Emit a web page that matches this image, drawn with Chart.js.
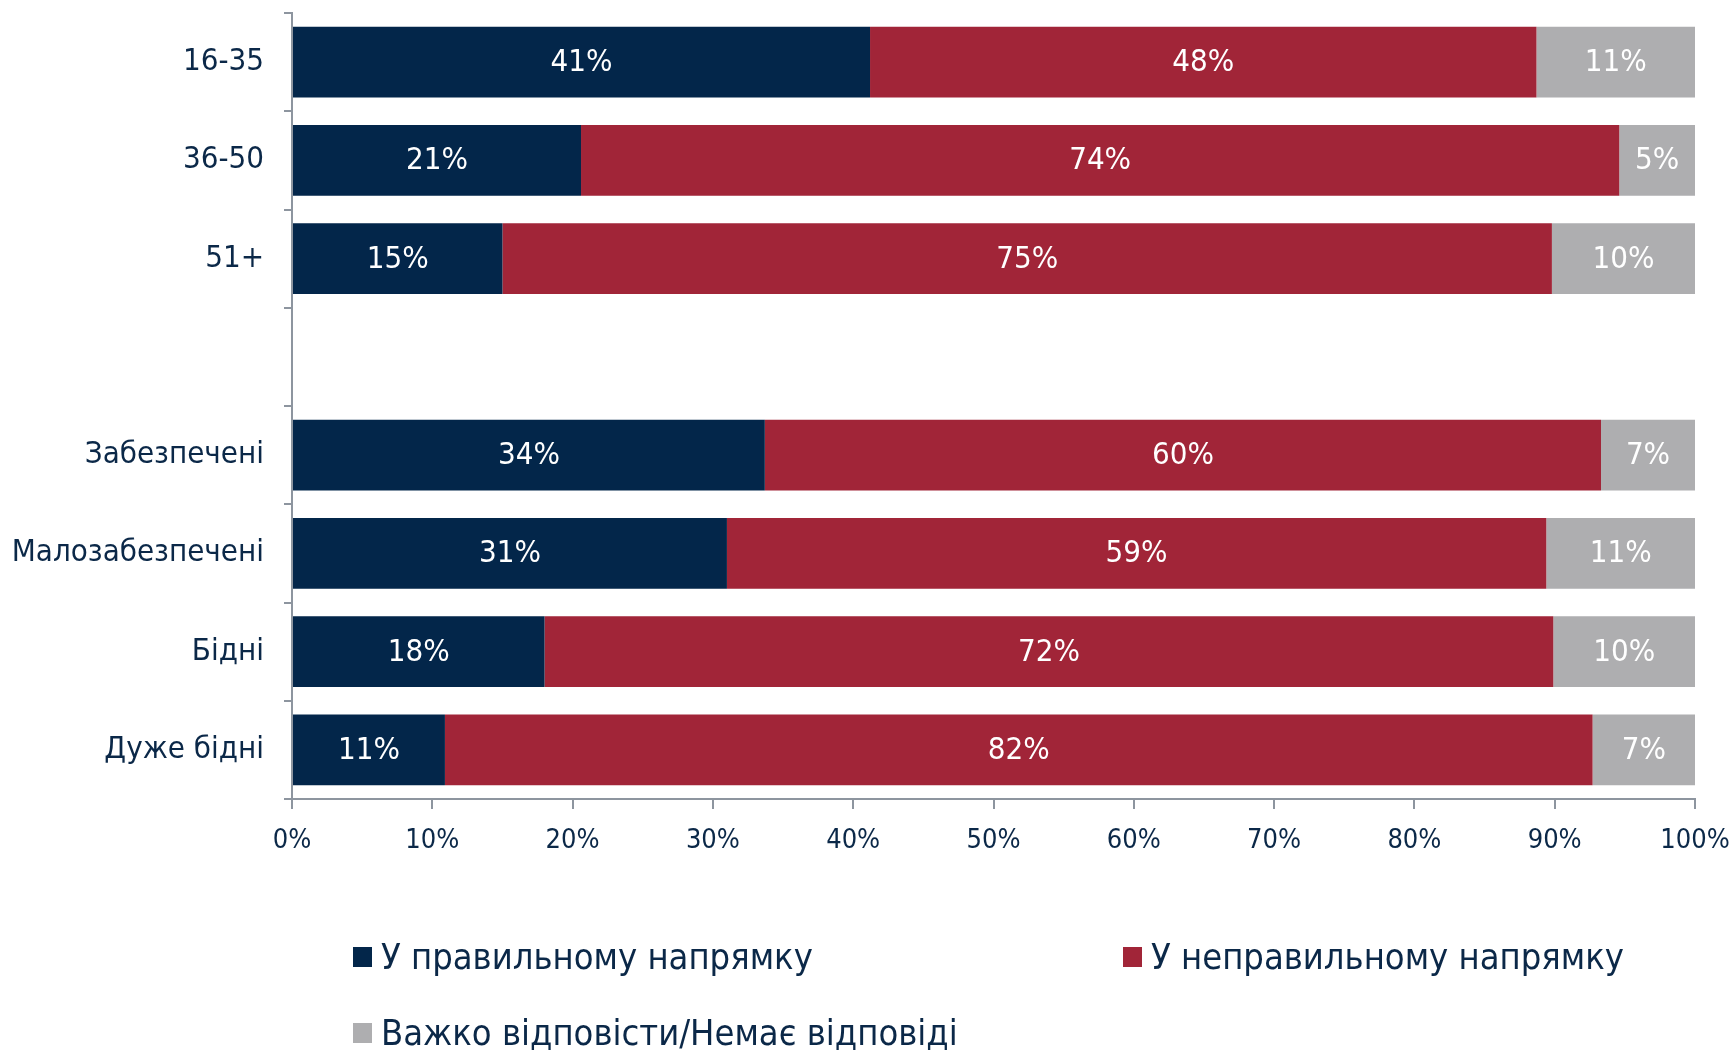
<!DOCTYPE html>
<html>
<head>
<meta charset="utf-8">
<script src="https://cdn.jsdelivr.net/npm/chart.js@4.4.1/dist/chart.umd.min.js"></script>
<style>
  body { margin: 0; background: #fff; }
  #wrap { position: relative; width: 1732px; height: 1053px; }
  .leg { position: absolute; display: flex; align-items: center; font-family: "DejaVu Sans Condensed", "DejaVu Sans", sans-serif; font-size: 36px; color: #0b2848; white-space: nowrap; }
  .leg i { display: inline-block; width: 19px; height: 20px; margin-right: 9px; }
</style>
</head>
<body>
<div id="wrap">
  <canvas id="chart" width="1732" height="1053"></canvas>
  <div id="legend"></div>
</div>
<script>
// categories (empty slot separates age groups from income groups)
const categories = ['16-35', '36-50', '51+', '', 'Забезпечені', 'Малозабезпечені', 'Бідні', 'Дуже бідні'];

// series names
const seriesNames = ['У правильному напрямку', 'У неправильному напрямку', 'Важко відповісти/Немає відповіді'];

// bar lengths
const rightDir = [41.2, 20.6, 15.0, null, 33.7, 31.0, 18.0, 10.9];
const wrongDir = [47.5, 74.0, 74.8, null, 59.6, 58.4, 71.9, 81.8];
const hardToSay = [11.3, 5.4, 10.2, null, 6.7, 10.6, 10.1, 7.3];

// printed labels
const rightLabels = ['41%', '21%', '15%', '', '34%', '31%', '18%', '11%'];
const wrongLabels = ['48%', '74%', '75%', '', '60%', '59%', '72%', '82%'];
const hardLabels = ['11%', '5%', '10%', '', '7%', '11%', '10%', '7%'];

const xTicks = [0, 10, 20, 30, 40, 50, 60, 70, 80, 90, 100];

const COLORS = ['#03264a', '#a12538', '#aeaeb0'];
const TEXT = '#0b2848';
const AXIS = '#8d959f';
const FONT = '"DejaVu Sans Condensed", "DejaVu Sans", sans-serif';

// ── Labels inside the bars ──────────────────────────────────────────────────
const barLabels = {
  id: 'barLabels',
  afterDatasetsDraw(chart) {
    const ctx = chart.ctx;
    const labelSets = [rightLabels, wrongLabels, hardLabels];
    ctx.save();
    ctx.fillStyle = '#ffffff';
    ctx.font = `31px ${FONT}`;
    ctx.textAlign = 'center';
    ctx.textBaseline = 'middle';
    chart.data.datasets.forEach((ds, i) => {
      chart.getDatasetMeta(i).data.forEach((bar, j) => {
        const txt = labelSets[i][j];
        if (!txt) return;
        const { x, y, base } = bar.getProps(['x', 'y', 'base'], true);
        ctx.fillText(txt, (x + base) / 2, y + 1);
      });
    });
    ctx.restore();
  }
};

const datasets = [rightDir, wrongDir, hardToSay].map((vals, i) => ({
  label: seriesNames[i],
  data: vals,
  backgroundColor: COLORS[i],
  borderWidth: 0,
  barPercentage: 0.72,
  categoryPercentage: 1,
  stack: 's'
}));

new Chart(document.getElementById('chart'), {
  type: 'bar',
  data: { labels: categories, datasets },
  plugins: [barLabels],
  options: {
    indexAxis: 'y',
    responsive: false,
    animation: false,
    layout: { padding: { top: 13, right: 37, bottom: 174, left: 0 } },
    plugins: { legend: { display: false }, tooltip: { enabled: false } },
    scales: {
      x: {
        stacked: true,
        min: 0,
        max: 100,
        afterBuildTicks: axis => { axis.ticks = xTicks.map(v => ({ value: v })); },
        afterFit: axis => { axis.height = 80; axis.paddingLeft = 0; axis.paddingRight = 0; },
        border: { display: true, color: AXIS, width: 2 },
        grid: { drawOnChartArea: false, drawTicks: true, tickLength: 10, color: AXIS, lineWidth: 2 },
        ticks: { color: TEXT, font: { family: FONT, size: 27 }, padding: 16, callback: v => v + '%' }
      },
      y: {
        stacked: true,
        afterFit: axis => { axis.width = 292; axis.paddingTop = 0; axis.paddingBottom = 0; },
        border: { display: true, color: AXIS, width: 2 },
        grid: { drawOnChartArea: false, drawTicks: true, tickLength: 8, offset: true, color: AXIS, lineWidth: 2 },
        ticks: { color: TEXT, font: { family: FONT, size: 31 }, padding: 20 }
      }
    }
  }
});

// ── Legend (two columns, as in the original) ────────────────────────────────
const legendPos = [[353, 959], [1123, 959], [353, 1035]];
const legendEl = document.getElementById('legend');
seriesNames.forEach((name, i) => {
  const d = document.createElement('div');
  d.className = 'leg';
  d.style.left = legendPos[i][0] + 'px';
  d.style.top = (legendPos[i][1] - 23) + 'px';
  d.innerHTML = `<i style="background:${COLORS[i]}"></i><span>${name}</span>`;
  legendEl.appendChild(d);
});
</script>
</body>
</html>
